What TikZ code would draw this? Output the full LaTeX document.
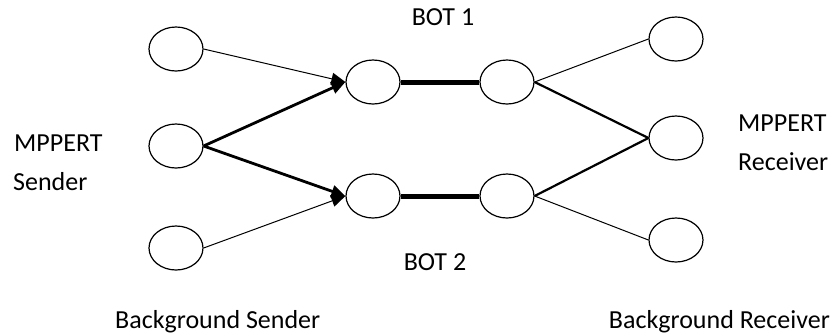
\documentclass[tikz,border=0pt]{standalone}
\usepackage{fontspec}
\setmainfont{Carlito}
\usetikzlibrary{arrows.meta, shapes.geometric}

\begin{document}
\begin{tikzpicture}[x=1pt, y=1pt]
\tikzset{host/.style={draw, ellipse, line width=1.2pt, minimum width=54pt, minimum height=44pt, inner sep=0pt},
  thinlink/.style={line width=1pt},
  fatlink/.style={line width=2.8pt},
  botlink/.style={line width=5pt},
  tip/.style={-{Triangle[length=14pt, width=12pt]}},
  lbl/.style={font=\fontsize{26}{30}\selectfont, inner sep=0pt}}
\useasboundingbox (0,0) rectangle (839,-333);
% senders
\node [host] (s1) at (176,-49) {};
\node [host] (s2) at (176,-146) {};
\node [host] (s3) at (176,-248) {};
% bottlenecks
\node [host] (b1l) at (373,-82) {};
\node [host] (b1r) at (507,-82) {};
\node [host] (b2l) at (373,-196) {};
\node [host] (b2r) at (507,-196) {};
% receivers
\node [host] (r1) at (676,-39) {};
\node [host] (r2) at (676,-138) {};
\node [host] (r3) at (676,-240) {};
% texts
\node [lbl, anchor=base] (t1) at (443,-25) {BOT 1};
\node [lbl, anchor=base] (t2) at (435,-270) {BOT 2};
\node [lbl, anchor=base west] (t3) at (14,-151) {MPPERT};
\node [lbl, anchor=base west] (t4) at (13,-190) {Sender};
\node [lbl, anchor=base west] (t5) at (738,-131) {MPPERT};
\node [lbl, anchor=base west] (t6) at (738,-170) {Receiver};
\node [lbl, anchor=base west] (t7) at (115,-328) {Background Sender};
\node [lbl, anchor=base east] (t8) at (830,-328) {Background Receiver};
% links
\draw [thinlink, tip] (s1.east) -- (b1l.west);
\draw [fatlink, tip] (s2.east) -- (b1l.west);
\draw [fatlink, tip] (s2.east) -- (b2l.west);
\draw [thinlink, tip] (s3.east) -- (b2l.west);
\draw [botlink] (b1l) -- (b1r);
\draw [botlink] (b2l) -- (b2r);
\draw [thinlink] (b1r.east) -- (r1.west);
\draw [fatlink, line width=2.2pt] (b1r.east) -- (r2.west);
\draw [fatlink, line width=2.2pt] (b2r.east) -- (r2.west);
\draw [thinlink] (b2r.east) -- (r3.west);
\end{tikzpicture}
\end{document}
